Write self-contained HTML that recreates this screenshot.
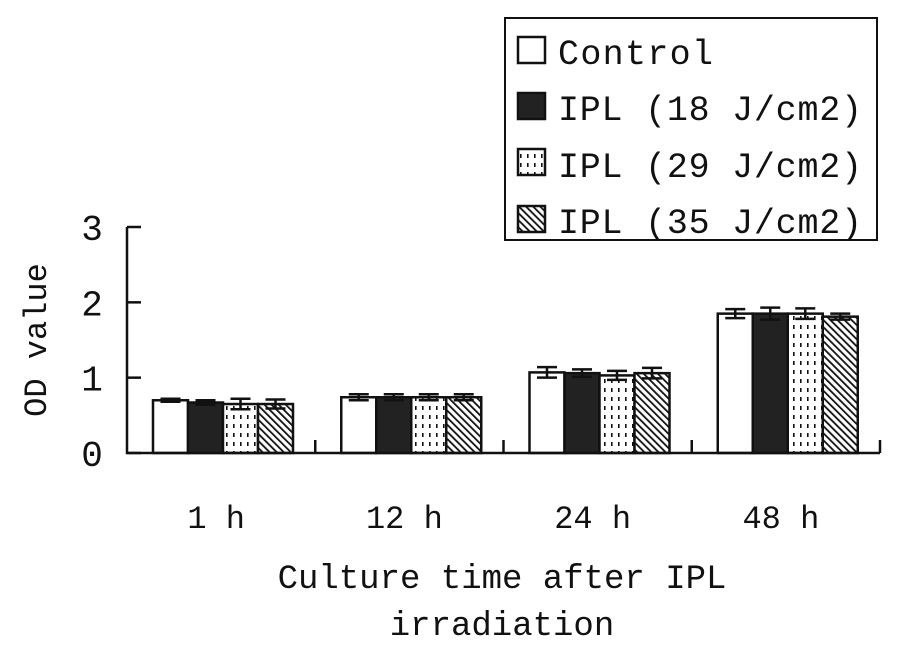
<!DOCTYPE html>
<html><head><meta charset="utf-8"><style>
html,body{margin:0;padding:0;background:#fff;}
svg{display:block;}
text{font-family:"Liberation Mono","Noto Serif CJK SC",monospace;fill:#111;}
</style></head><body>
<svg id="chart" width="897" height="646" viewBox="0 0 897 646">
<defs>
<pattern id="dots" width="7" height="9" patternUnits="userSpaceOnUse"><rect width="7" height="9" fill="#fff"/><rect x="2" y="1" width="1.6" height="4" fill="#111"/></pattern>
<pattern id="hatch" width="5" height="5" patternUnits="userSpaceOnUse" patternTransform="rotate(-45)"><rect width="5" height="5" fill="#fff"/><rect x="0" y="0" width="1.8" height="5" fill="#111"/></pattern>
</defs>
<g id="plot"></g>
<g>
<rect x="505" y="18" width="372" height="222" fill="#fff" stroke="#111" stroke-width="2"/>
<rect x="518" y="37" width="27" height="26" fill="#fff" stroke="#111" stroke-width="2.5"/>
<text x="558" y="64" font-size="35" textLength="155">Control</text>
<rect x="518" y="93" width="27" height="26" fill="#222" stroke="#111" stroke-width="2.5"/>
<text x="558" y="120" font-size="35" textLength="304">IPL (18 J/cm2)</text>
<rect x="518" y="149" width="27" height="26" fill="url(#dots)" stroke="#111" stroke-width="2.5"/>
<text x="558" y="177" font-size="35" textLength="304">IPL (29 J/cm2)</text>
<rect x="518" y="206" width="27" height="26" fill="url(#hatch)" stroke="#111" stroke-width="2.5"/>
<text x="558" y="233" font-size="35" textLength="304">IPL (35 J/cm2)</text>
</g>
<text x="0" y="0" font-size="32" text-anchor="middle" transform="translate(46,340) rotate(-90)">OD value</text>
<text x="502" y="588" font-size="34" text-anchor="middle">Culture time after IPL</text>
<text x="502" y="635" font-size="34" text-anchor="middle">irradiation</text>
</svg>
<script>
const categories = ["1 h","12 h","24 h","48 h"];
const seriesNames = ["Control","IPL (18 J/cm2)","IPL (29 J/cm2)","IPL (35 J/cm2)"];
const controlVals = [0.70,0.74,1.07,1.85];
const ipl18Vals = [0.67,0.74,1.06,1.85];
const ipl29Vals = [0.65,0.74,1.03,1.85];
const ipl35Vals = [0.65,0.74,1.06,1.81];
const controlErr = [0.02,0.04,0.07,0.06];
const ipl18Err = [0.03,0.04,0.05,0.08];
const ipl29Err = [0.07,0.04,0.06,0.07];
const ipl35Err = [0.06,0.04,0.07,0.04];
const yTicks = [0,1,2,3];

const NS="http://www.w3.org/2000/svg";
const g=document.getElementById('plot');
const x0=127,x1=880,y0=453,yTop=227,yMax=3;
const yScale=v=>y0-(v/yMax)*(y0-yTop);
const catW=(x1-x0)/categories.length;
const barW=35,groupPad=26;
const xBar=(ci,si)=>x0+ci*catW+groupPad+si*barW;
function el(tag,attrs){const e=document.createElementNS(NS,tag);for(const k in attrs)e.setAttribute(k,attrs[k]);g.appendChild(e);return e;}
const fills=["#fff","#222","url(#dots)","url(#hatch)"];
const vals=[controlVals,ipl18Vals,ipl29Vals,ipl35Vals];
const errs=[controlErr,ipl18Err,ipl29Err,ipl35Err];
const keys=["control","ipl18","ipl29","ipl35"];
vals.forEach((arr,si)=>{arr.forEach((v,ci)=>{
  const x=xBar(ci,si),y=yScale(v);
  const r=el('rect',{x:x,y:y,width:barW,height:y0-y,fill:fills[si],stroke:'#111','stroke-width':2.5});
  
  
  const cx=x+barW/2,e=errs[si][ci];
  const eb=el('path',{d:`M${cx} ${yScale(v+e)}V${yScale(v-e)}M${cx-10} ${yScale(v+e)}H${cx+10}M${cx-10} ${yScale(v-e)}H${cx+10}`,stroke:'#111','stroke-width':2.5,fill:'none'});
  
  
});});
const ax=el('path',{d:`M${x0} ${yTop}V${y0}H${x1}`,stroke:'#111','stroke-width':2.5,fill:'none'});


yTicks.forEach(t=>{
  const y=yScale(t);
  const tk=el('line',{x1:x0,x2:x0+14,y1:y,y2:y,stroke:'#111','stroke-width':2.5});
  
  
  const lb=el('text',{x:92,y:y+13,'font-size':36,'text-anchor':'middle'});
  lb.textContent=t;
  
  
});
categories.forEach((c,ci)=>{
  const xs=x0+(ci+1)*catW;
  const tk=el('line',{x1:xs,x2:xs,y1:y0,y2:y0-13,stroke:'#111','stroke-width':2.5});
  
  
  const lb=el('text',{x:x0+ci*catW+catW/2-5,y:528,'font-size':32,'text-anchor':'middle'});
  lb.textContent=c;
  
  
});
</script>
</body></html>
